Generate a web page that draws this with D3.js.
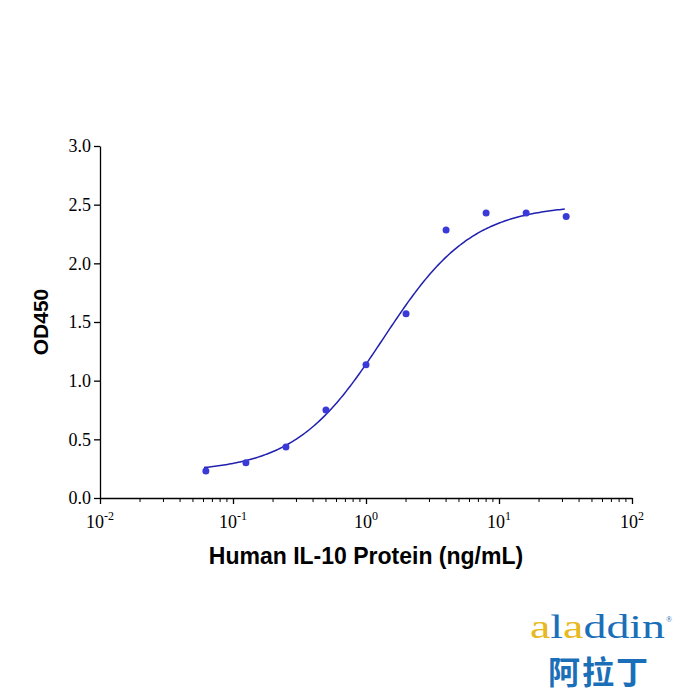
<!DOCTYPE html>
<html><head><meta charset="utf-8">
<script src="https://cdn.jsdelivr.net/npm/d3@7"></script>
<style>body{margin:0;background:#fff}.serif{font-family:"Liberation Serif","DejaVu Serif",serif !important}</style></head>
<body><svg id="c" width="700" height="700"></svg>
<script>
const conc = [0.0625,0.125,0.25,0.5,1,2,4,8,16,32];
const od = [0.23,0.30,0.435,0.75,1.135,1.57,2.285,2.43,2.43,2.40];
const fitParams = [0.22, 2.5, 1.35, 1.3]; // bottom, top, EC50, hill (4PL fit)
const yTicks = [0,0.5,1.0,1.5,2.0,2.5,3.0];
const xTickExp = [-2,-1,0,1,2];

const svg = d3.select("#c");
const x = d3.scaleLog().domain([0.01,100]).range([100,632]);
const y = d3.scaleLinear().domain([0,3]).range([498,146]);

const ya = svg.append("g").attr("transform","translate(100,0)")
  .call(d3.axisLeft(y).tickValues(yTicks).tickFormat(d3.format(".1f")).tickSizeOuter(0));
ya.attr("font-family",null);
ya.selectAll("text").attr("class","serif").attr("font-size",18).attr("fill","#000");
ya.selectAll("line,path").attr("stroke","#000").attr("stroke-width",1.3);

const xa = svg.append("g").attr("transform","translate(0,498)")
  .call(d3.axisBottom(x).tickValues(xTickExp.map(e=>Math.pow(10,e))).tickFormat("").tickSizeOuter(0));
xa.selectAll("line,path").attr("stroke","#000").attr("stroke-width",1.3);
const minor=[];
for(let e=-2;e<2;e++) for(let k=2;k<10;k++) minor.push(k*Math.pow(10,e));
svg.append("g").selectAll("line").data(minor).join("line")
  .attr("x1",d=>x(d)).attr("x2",d=>x(d)).attr("y1",498).attr("y2",502)
  .attr("stroke","#000").attr("stroke-width",1);
const lab = svg.append("g").selectAll("text").data(xTickExp).join("text")
  .attr("class","serif").attr("x",d=>x(Math.pow(10,d))).attr("y",528).attr("text-anchor","middle")
  .attr("font-size",18);
lab.append("tspan").text("10");
lab.append("tspan").attr("dy",-8).attr("font-size",12).text(d=>d);

const [b,t,ec,h]=fitParams;
const f=c=>b+(t-b)/(1+Math.pow(ec/c,h));
const cs=d3.range(0,201).map(i=>Math.pow(10,Math.log10(0.0605)+i/200*(Math.log10(31.25)-Math.log10(0.0605))));
svg.append("path").datum(cs).attr("fill","none").attr("stroke","#2020b0").attr("stroke-width",1.5)
  .attr("d",d3.line().x(c=>x(c)).y(c=>y(f(c))));
svg.append("g").selectAll("circle").data(conc).join("circle")
  .attr("cx",(d)=>x(d)).attr("cy",(d,i)=>y(od[i])).attr("r",3.5).attr("fill","#3a3ad8");

svg.append("text").attr("x",366).attr("y",564).attr("text-anchor","middle")
  .attr("font-family","Liberation Sans, Arial, sans-serif").attr("font-weight","bold").attr("font-size",23)
  .text("Human IL-10 Protein (ng/mL)");
svg.append("text").attr("transform","translate(48,322) rotate(-90)").attr("text-anchor","middle")
  .attr("font-family","Liberation Sans, Arial, sans-serif").attr("font-weight","bold").attr("font-size",21)
  .text("OD450");

const logo=svg.append("text").attr("class","serif").attr("x",530).attr("y",638).attr("font-size",34).attr("fill","#1b6fb8")
  .attr("textLength",135).attr("lengthAdjust","spacingAndGlyphs");
[["a","#e8b820"],["l","#1b6fb8"],["a","#e8b820"],["ddin","#1b6fb8"]].forEach(([s,c])=>logo.append("tspan").attr("fill",c).text(s));
svg.append("text").attr("x",666).attr("y",622).attr("font-size",8).attr("fill","#1b6fb8").text("®");
svg.append("text").attr("x",548).attr("y",684).attr("font-family","Noto Sans CJK SC").attr("font-size",32).attr("font-weight","bold")
  .attr("fill","#1b6fb8").attr("letter-spacing",2).text("阿拉丁");
</script></body></html>
